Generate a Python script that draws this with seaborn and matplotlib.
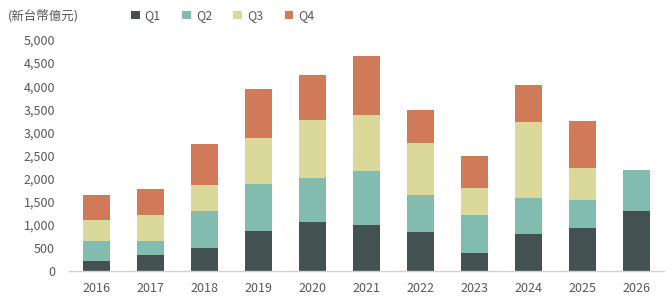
import numpy as np
import pandas as pd
import matplotlib
matplotlib.use("Agg")
import matplotlib.pyplot as plt
from matplotlib.patches import Patch
import seaborn as sns

# Values (NT$ 100 million)
years = ["2016", "2017", "2018", "2019", "2020", "2021", "2022", "2023", "2024", "2025", "2026"]
quarters = ["Q1", "Q2", "Q3", "Q4"]
q1 = [220, 350, 500, 870, 1060, 1000, 850, 390, 800, 930, 1300]
q2 = [430, 300, 800, 1010, 950, 1165, 795, 820, 780, 605, 890]
q3 = [450, 560, 560, 1000, 1260, 1210, 1125, 585, 1645, 690, 0]
q4 = [540, 565, 890, 1055, 970, 1275, 715, 690, 800, 1020, 0]
unit_label = "(新台幣億元)"

colors = ["#435251", "#82bcae", "#dbd99a", "#d07a5a"]

sns.set_theme(style="white")
plt.rcParams["font.family"] = ["Noto Sans CJK TC", "DejaVu Sans"]

fig = plt.figure(figsize=(6.72, 3.05), dpi=100)
ax = fig.add_axes([0.1027, 0.1115, 0.8853, 0.7574])

bottom = np.zeros(len(years))
for name, vals, c in zip(quarters, [q1, q2, q3, q4], colors):
    df = pd.DataFrame({"year": years, "value": vals})
    sns.barplot(data=df, x="year", y="value", color=c, width=0.5,
                bottom=bottom, ax=ax, saturation=1, linewidth=0, order=years)
    bottom = bottom + np.array(vals)

ax.set_ylim(0, 5000)
ax.set_xlim(-0.5, len(years) - 0.5)
ax.set_yticks(range(0, 5001, 500))
ax.set_yticklabels([f"{v:,}" for v in range(0, 5001, 500)])
ax.set_xlabel("")
ax.set_ylabel("")
ax.tick_params(axis="both", labelsize=9, colors="#595959", length=0)
ax.tick_params(axis="y", pad=10)
ax.tick_params(axis="x", pad=8)
for s in ["top", "right", "left"]:
    ax.spines[s].set_visible(False)
ax.spines["bottom"].set_color("#d0d0d0")
ax.spines["bottom"].set_linewidth(1)

fig.text(0.012, 0.948, unit_label, fontsize=9, color="#595959", va="center", ha="left")

handles = [Patch(facecolor=c, edgecolor="none") for c in colors]
fig.legend(handles, quarters, loc="center left", bbox_to_anchor=(0.178, 0.948),
           ncol=4, frameon=False, fontsize=9, handlelength=0.7, handleheight=0.7,
           handletextpad=0.4, columnspacing=1.7, labelcolor="#595959")

fig.savefig("out.png", dpi=100)
